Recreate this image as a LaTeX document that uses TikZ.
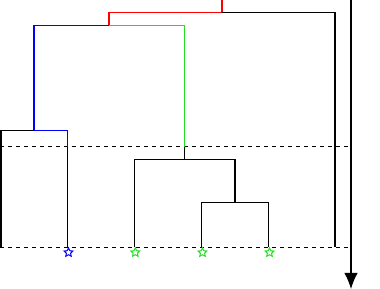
\documentclass[tikz,border=0pt]{standalone}
\usepackage{tikz}
\usetikzlibrary{shapes.geometric, arrows.meta, positioning}
\usepackage{xcolor}
\definecolor{clusterblue}{HTML}{0000FF}
\definecolor{clustergreen}{HTML}{22DD22}
\definecolor{clusterred}{HTML}{FF0000}

\begin{document}
\begin{tikzpicture}[x=0.75pt, y=-0.75pt, line width=0.8pt,
    leaf/.style={star, star points=5, star point ratio=2.1, draw, line width=0.75pt, inner sep=0pt, minimum size=7pt},
    cutline/.style={dashed, line width=0.6pt}]
  \useasboundingbox (0,0) rectangle (380,289);
  % leaves and merge points
  \coordinate (l0) at (1,247.5);
  \coordinate (l1) at (67.7,247.5);
  \coordinate (l2) at (134.3,247.5);
  \coordinate (l3) at (201.7,247.5);
  \coordinate (l4) at (268.7,247.5);
  \coordinate (l5) at (335,247.5);
  \coordinate (m34) at (235,202.7);
  \coordinate (m234) at (184.7,159.3);
  \coordinate (m01) at (34,130.3);
  \coordinate (m04) at (109,25.3);
  \coordinate (root) at (222,12.7);
  \coordinate (top) at (222,0);
  \coordinate (c1) at (67.7,146.7);
  \coordinate (c2) at (184.7,146.7);
  % cut lines and axis
  \coordinate (cutA) at (0,146.7);
  \coordinate (cutAend) at (351,146.7);
  \coordinate (cutB) at (0,247.5);
  \coordinate (cutBend) at (351,247.5);
  \coordinate (axtop) at (351,0);
  \coordinate (axbot) at (351,289);
  \draw[cutline] (cutA) -- (cutAend);
  \draw[cutline] (cutB) -- (cutBend);
  \draw[-{Latex[length=12pt, width=10pt]}] (axtop) -- (axbot);
  % tree
  \draw (l0) |- (m01);
  \draw[clusterblue] (m01) -| (c1);
  \draw (c1) -- (l1);
  \draw[clusterblue] (m01) |- (m04);
  \draw[clustergreen] (m04) -| (c2);
  \draw (c2) -- (m234);
  \draw (l2) |- (m234) -| (m34);
  \draw (l3) |- (m34) -| (l4);
  \draw[clusterred] (m04) |- (root) -- (top);
  \draw (root) -| (l5);
  % stars
  \node[leaf, draw=clusterblue] (s1) at (68.5,252.5) {};
  \node[leaf, draw=clustergreen] (s2) at (135.3,252.5) {};
  \node[leaf, draw=clustergreen] (s3) at (202.5,252.5) {};
  \node[leaf, draw=clustergreen] (s4) at (269.5,252.5) {};
\end{tikzpicture}
\end{document}
